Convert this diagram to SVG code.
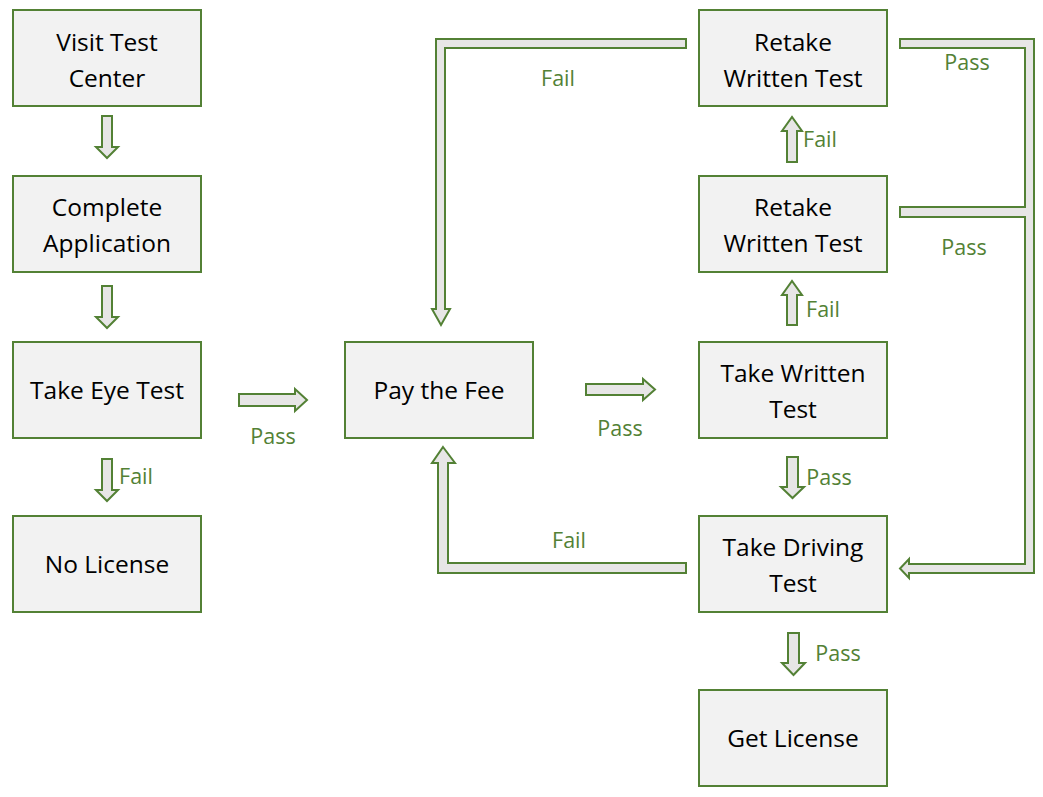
<svg xmlns="http://www.w3.org/2000/svg" width="1043" height="797" viewBox="0 0 1043 797">
<style>
.box{fill:#f2f2f2;stroke:#538135;stroke-width:2}
.t{font-family:"Open Sans","Liberation Sans",sans-serif;font-size:24.5px;fill:#000;text-anchor:middle}
.arr{fill:#e7e6e6;stroke:#538135;stroke-width:2;stroke-linejoin:miter}
.lbl{font-family:"Open Sans","Liberation Sans",sans-serif;font-size:21.5px;fill:#538135;text-anchor:middle}
</style>
<rect width="1043" height="797" fill="#fff"/>
<g id="visit"><rect class="box" x="13" y="10" width="188" height="96"/><text class="t" x="107" y="51">Visit Test</text><text class="t" x="107" y="87">Center</text></g>
<g id="complete"><rect class="box" x="13" y="176" width="188" height="96"/><text class="t" x="107" y="216">Complete</text><text class="t" x="107" y="252">Application</text></g>
<g id="eye"><rect class="box" x="13" y="342" width="188" height="96"/><text class="t" x="107" y="399">Take Eye Test</text></g>
<g id="nolicense"><rect class="box" x="13" y="516" width="188" height="96"/><text class="t" x="107" y="573">No License</text></g>
<g id="fee"><rect class="box" x="345" y="342" width="188" height="96"/><text class="t" x="439" y="399">Pay the Fee</text></g>
<g id="retake1"><rect class="box" x="699" y="10" width="188" height="96"/><text class="t" x="793" y="51">Retake</text><text class="t" x="793" y="87">Written Test</text></g>
<g id="retake2"><rect class="box" x="699" y="176" width="188" height="96"/><text class="t" x="793" y="216">Retake</text><text class="t" x="793" y="252">Written Test</text></g>
<g id="written"><rect class="box" x="699" y="342" width="188" height="96"/><text class="t" x="793" y="382">Take Written</text><text class="t" x="793" y="418">Test</text></g>
<g id="driving"><rect class="box" x="699" y="516" width="188" height="96"/><text class="t" x="793" y="556">Take Driving</text><text class="t" x="793" y="592">Test</text></g>
<g id="license"><rect class="box" x="699" y="690" width="188" height="96"/><text class="t" x="793" y="747">Get License</text></g>
<g id="connectors">
<polygon class="arr" points="102,116 112,116 112,147 118,147 107,158 96,147 102,147"/>
<polygon class="arr" points="102,286 112,286 112,317 118,317 107,328 96,317 102,317"/>
<polygon class="arr" points="102,459 112,459 112,490 118,490 107,501 96,490 102,490"/>
<text class="lbl" x="136" y="484">Fail</text>
<polygon class="arr" points="239,394 295,394 295,389 307,400 295,411 295,406 239,406"/>
<text class="lbl" x="273" y="444">Pass</text>
<polygon class="arr" points="586,384 643,384 643,379 655,389.5 643,400 643,395 586,395"/>
<text class="lbl" x="620" y="436">Pass</text>
<polygon class="arr" points="787,457 798,457 798,487 804,487 792.5,498 781,487 787,487"/>
<text class="lbl" x="829" y="485">Pass</text>
<polygon class="arr" points="788,633 799,633 799,663 805,663 793.5,675 782,663 788,663"/>
<text class="lbl" x="838" y="661">Pass</text>
<polygon class="arr" points="787,325 797,325 797,295 802,295 792,281 782,295 787,295"/>
<text class="lbl" x="823" y="317">Fail</text>
<polygon class="arr" points="787,162 797,162 797,131 802,131 792,117 782,131 787,131"/>
<text class="lbl" x="820" y="147">Fail</text>
<polygon class="arr" points="686,39 436,39 436,309 432,309 441,325 450,309 445,309 445,48 686,48"/>
<text class="lbl" x="558" y="86">Fail</text>
<polygon class="arr" points="443,447 455,463 448,463 448,563 686,563 686,573 438,573 438,463 432,463"/>
<text class="lbl" x="569" y="548">Fail</text>
<polygon class="arr" points="900,39 1034,39 1034,573 909,573 909,578 900,568.5 909,559 909,564 1025,564 1025,217 900,217 900,207 1025,207 1025,48 900,48"/>
<text class="lbl" x="967" y="70">Pass</text>
<text class="lbl" x="964" y="255">Pass</text>
</g>
</svg>
